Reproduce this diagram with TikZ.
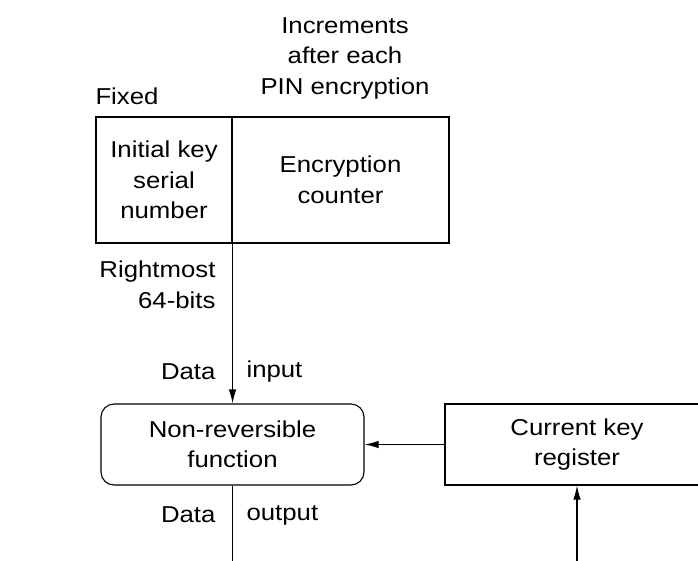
\documentclass[tikz,border=0pt]{standalone}
\usepackage{fontspec}
\setmainfont{Liberation Sans}[FakeStretch=1.12]
\usepackage{tikz}
\usetikzlibrary{shapes,arrows.meta}

\begin{document}
\begin{tikzpicture}[x=1pt, y=-1pt, line width=1.1pt, >={Latex[length=14pt,width=7.5pt]},
		box/.style={rectangle, draw = black, align = center, inner sep = 0pt},
		lbl/.style={align = center, inner sep = 0pt},
		every node/.style={font=\fontsize{23}{30.5}\selectfont}]
		\clip (0,0) rectangle (698,560);
		\node (fx)[lbl] at (127,96) {Fixed};
		\node (inc)[lbl] at (345,58) {Increments\\after each\\PIN encryption};
		
		\node (ksn)[box, minimum width = 136pt, minimum height = 126pt] at (164,180) {Initial key\\serial\\number};
		\node (ec)[box, minimum width = 217pt, minimum height = 126pt] at (340.5,180) {Encryption\\counter};
		\node (nrf)[box, rounded corners = 13pt, minimum width = 263pt, minimum height = 81pt] at (232.5,444.5) {Non-reversible\\function};
		\node (ckr)[box, minimum width = 264pt, minimum height = 81pt] at (577,444.5) {Current key\\register};
		
		\node (rm)[lbl, align = right, anchor = east] at (216,285) {Rightmost\\64-bits};
		\node (din)[lbl, anchor = east] at (216,372) {Data};
		\node (in)[lbl, anchor = west] at (246,372) {input};
		\node (dout)[lbl, anchor = east] at (216,515) {Data};
		\node (out)[lbl, anchor = west] at (246,515) {output};
		
		\coordinate (c1) at (nrf.south |- 0,580);
		\coordinate (c2) at (ckr.south |- 0,580);
		
		\draw[->] (ksn.south east) -- (ksn.south east |- nrf.north);
		\draw[->] (ckr.west) -- (nrf.east);
		\draw (nrf.south) -- (c1);
		\draw[->] (c2) -- (ckr.south);
\end{tikzpicture}
\end{document}
